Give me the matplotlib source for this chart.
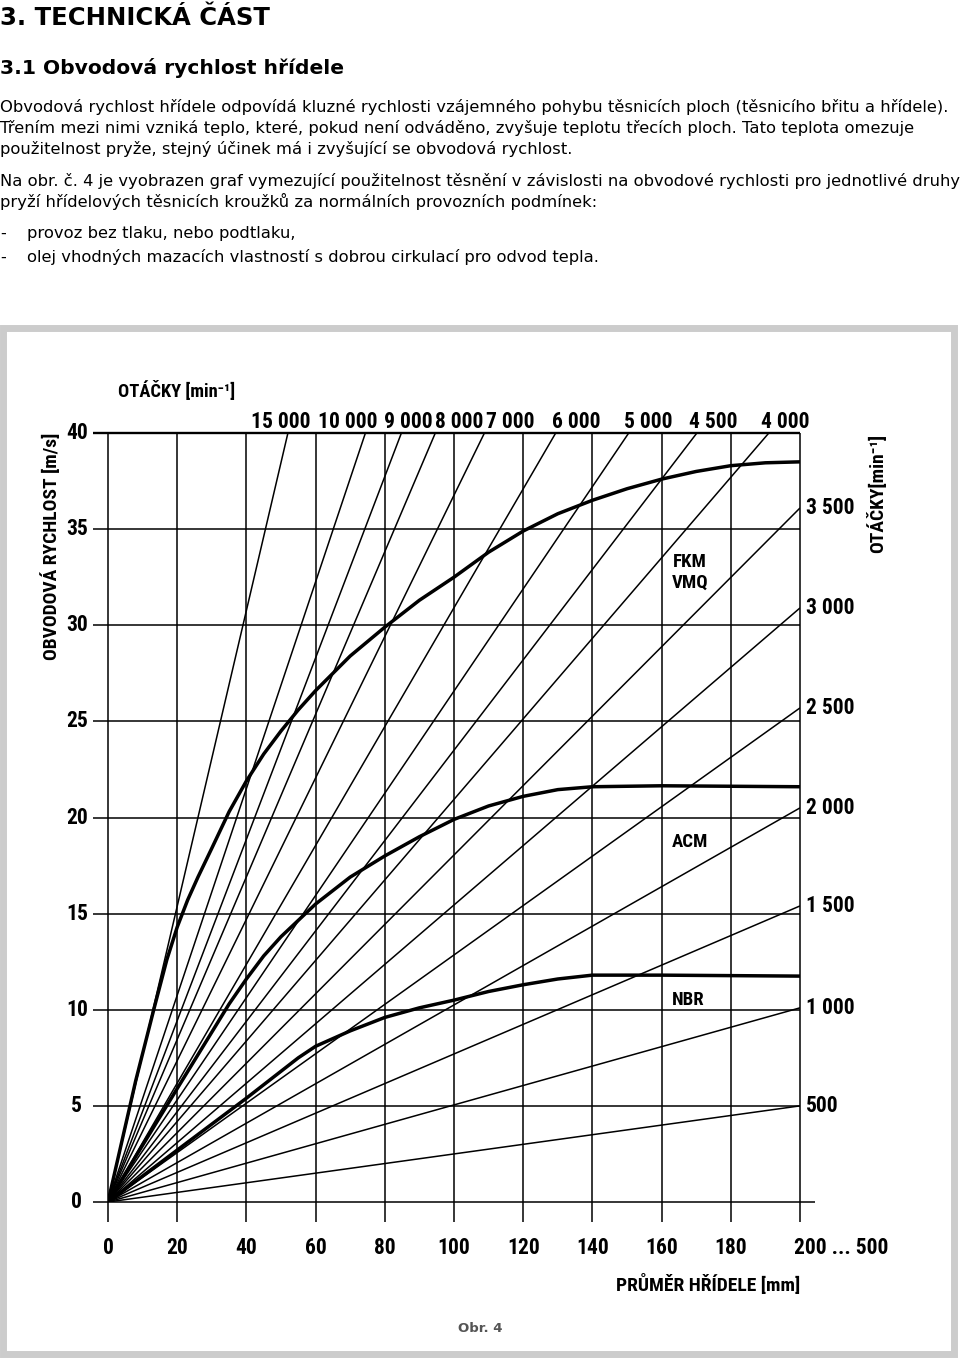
import matplotlib
matplotlib.use("Agg")
import matplotlib.pyplot as plt
from matplotlib.patches import Rectangle
import logging

logging.getLogger("matplotlib.font_manager").setLevel(logging.ERROR)

W, H = 960, 1359
DPI = 100

CHART_FONT = ["Liberation Sans Narrow", "Roboto Condensed", "DejaVu Sans Condensed",
              "Noto Sans Condensed", "Open Sans Condensed", "DejaVu Sans"]
TEXT_FONT = ["DejaVu Sans"]

# ---- values ----
speed_ticks = [0, 5, 10, 15, 20, 25, 30, 35, 40]
diam_ticks = [0, 20, 40, 60, 80, 100, 120, 140, 160, 180, 200]
diam_labels = ["0", "20", "40", "60", "80", "100", "120", "140", "160", "180", "200 ... 500"]

# rays reaching the top edge (40 m/s): diameter where they hit it
top_rpm = ["15 000", "10 000", "9 000", "8 000", "7 000", "6 000", "5 000", "4 500", "4 000"]
top_hit_d = [52.0, 74.4, 84.8, 94.6, 108.8, 129.4, 150.5, 170.2, 191.0]
top_label_pos = [49.9, 69.3, 86.7, 101.4, 116.2, 135.4, 156.0, 174.8, 195.7]

# rays reaching the right edge (200 mm): speed there
right_rpm = ["3 500", "3 000", "2 500", "2 000", "1 500", "1 000", "500"]
right_end_v = [36.1, 30.9, 25.7, 20.5, 15.4, 10.1, 5.0]

# limit curves of the elastomers
fkm_d = [0, 8, 13.5, 17, 20, 23, 26, 30, 35, 40, 45, 50, 55, 60, 70, 80, 90, 100, 110, 120,
         130, 140, 150, 160, 170, 180, 190, 200]
fkm_v = [0, 6.3, 10.2, 12.6, 14.3, 15.7, 16.9, 18.4, 20.3, 21.9, 23.3, 24.5, 25.6, 26.6, 28.4,
         29.9, 31.3, 32.5, 33.8, 34.9, 35.8, 36.5, 37.1, 37.6, 38.0, 38.3, 38.45, 38.5]
acm_d = [0, 20, 35, 40, 45, 50, 60, 70, 80, 90, 100, 110, 120, 130, 140, 160, 200]
acm_v = [0, 5.9, 10.3, 11.6, 12.8, 13.8, 15.5, 16.9, 18.0, 19.0, 19.9, 20.6, 21.1, 21.45, 21.6,
         21.65, 21.6]
nbr_d = [0, 20, 40, 45, 50, 55, 60, 70, 80, 90, 100, 110, 120, 130, 140, 160, 200]
nbr_v = [0, 2.7, 5.4, 6.1, 6.8, 7.5, 8.1, 8.9, 9.6, 10.1, 10.5, 10.95, 11.3, 11.6, 11.8, 11.8,
         11.75]

heading1 = "3. TECHNICKÁ ČÁST"
heading2 = "3.1 Obvodová rychlost hřídele"
body = [
    "Obvodová rychlost hřídele odpovídá kluzné rychlosti vzájemného pohybu těsnicích ploch (těsnicího břitu a hřídele).",
    "Třením mezi nimi vzniká teplo, které, pokud není odváděno, zvyšuje teplotu třecích ploch. Tato teplota omezuje",
    "použitelnost pryže, stejný účinek má i zvyšující se obvodová rychlost.",
    "Na obr. č. 4 je vyobrazen graf vymezující použitelnost těsnění v závislosti na obvodové rychlosti pro jednotlivé druhy",
    "pryží hřídelových těsnicích kroužků za normálních provozních podmínek:",
]
bullets = ["provoz bez tlaku, nebo podtlaku,",
           "olej vhodných mazacích vlastností s dobrou cirkulací pro odvod tepla."]


def fx(x):
    return x / W


def fy(y):
    return 1 - y / H


fig = plt.figure(figsize=(W / DPI, H / DPI), dpi=DPI)
fig.patch.set_facecolor("white")

# page text
fig.text(fx(0), fy(25), heading1, family=TEXT_FONT, weight="bold", fontsize=17.5, va="baseline")
fig.text(fx(0), fy(74), heading2, family=TEXT_FONT, weight="bold", fontsize=14.6, va="baseline")
body_base = [112, 133, 154, 186, 207]
for line, yb in zip(body, body_base):
    fig.text(fx(0), fy(yb), line, family=TEXT_FONT, fontsize=11.8, va="baseline")
for line, yb in zip(bullets, [238, 262]):
    fig.text(fx(0), fy(yb), "-", family=TEXT_FONT, fontsize=11.8, va="baseline")
    fig.text(fx(27), fy(yb), line, family=TEXT_FONT, fontsize=11.8, va="baseline")

# figure frame
fig.patches.append(Rectangle((fx(3), fy(1354)), fx(951), 1026 / H, transform=fig.transFigure,
                             fill=False, edgecolor="#cccccc", linewidth=5))

# chart
ax = fig.add_axes([fx(108), fy(1202), fx(800 - 108), (1202 - 433) / H])
ax.set_xlim(0, 200)
ax.set_ylim(0, 40)
ax.axis("off")

tick_dx = 15 * 200 / 692
tick_dv = 20 * 40 / 769
ax.hlines(speed_ticks[1:-1], -tick_dx, 200, color="black", lw=1.1, clip_on=False)
ax.hlines([40], -tick_dx, 200, color="black", lw=1.7, clip_on=False)
ax.hlines([0], -tick_dx, 200 + tick_dx, color="black", lw=1.1, clip_on=False)
ax.vlines(diam_ticks, -tick_dv, 40, color="black", lw=1.1, clip_on=False)

for d in top_hit_d:
    ax.plot([0, d], [0, 40], color="black", lw=1.1, solid_capstyle="butt")
for v in right_end_v:
    ax.plot([0, 200], [0, v], color="black", lw=1.1, solid_capstyle="butt")

for d, v in [(fkm_d, fkm_v), (acm_d, acm_v), (nbr_d, nbr_v)]:
    ax.plot(d, v, color="black", lw=2.5, solid_joinstyle="round")

lab = dict(family=CHART_FONT, stretch="condensed", weight="bold", fontsize=15.5, clip_on=False)
for v in speed_ticks:
    ax.text(-9.0, v, str(v), ha="center", va="center", **lab)
for d, t in zip(diam_ticks, diam_labels):
    if d == 200:
        ax.text(198.3, -2.4, t, ha="left", va="center", **lab)
    else:
        ax.text(d, -2.4, t, ha="center", va="center", **lab)
for x, t in zip(top_label_pos, top_rpm):
    ax.text(x, 40.55, t, ha="center", va="center", **lab)
for v, t in zip(right_end_v, right_rpm):
    ax.text(201.7, v, t, ha="left", va="center", **lab)

name = dict(family=CHART_FONT, stretch="condensed", weight="bold", fontsize=13.5, clip_on=False)
ax.text(168.2, 33.3, "FKM", ha="center", va="center", **name)
ax.text(168.2, 32.2, "VMQ", ha="center", va="center", **name)
ax.text(168.2, 18.7, "ACM", ha="center", va="center", **name)
ax.text(167.6, 10.5, "NBR", ha="center", va="center", **name)

axis_lab = dict(family=CHART_FONT, stretch="condensed", weight="bold", fontsize=14)
fig.text(fx(118), fy(391), "OTÁČKY [min⁻¹]", ha="left", va="center",
         **{**axis_lab, "fontsize": 13.3})
fig.text(fx(800), fy(1284), "PRŮMĚR HŘÍDELE [mm]", ha="right", va="center", **axis_lab)
fig.text(fx(51), fy(546), "OBVODOVÁ RYCHLOST [m/s]", ha="center", va="center", rotation=90,
         **axis_lab)
fig.text(fx(877), fy(493), "OTÁČKY[min⁻¹]", ha="center", va="center", rotation=90, **axis_lab)
fig.text(fx(480), fy(1328), "Obr. 4", family=TEXT_FONT, weight="bold", fontsize=9.5,
         color="#555555", ha="center", va="center")

fig.savefig("out.png", dpi=DPI)
